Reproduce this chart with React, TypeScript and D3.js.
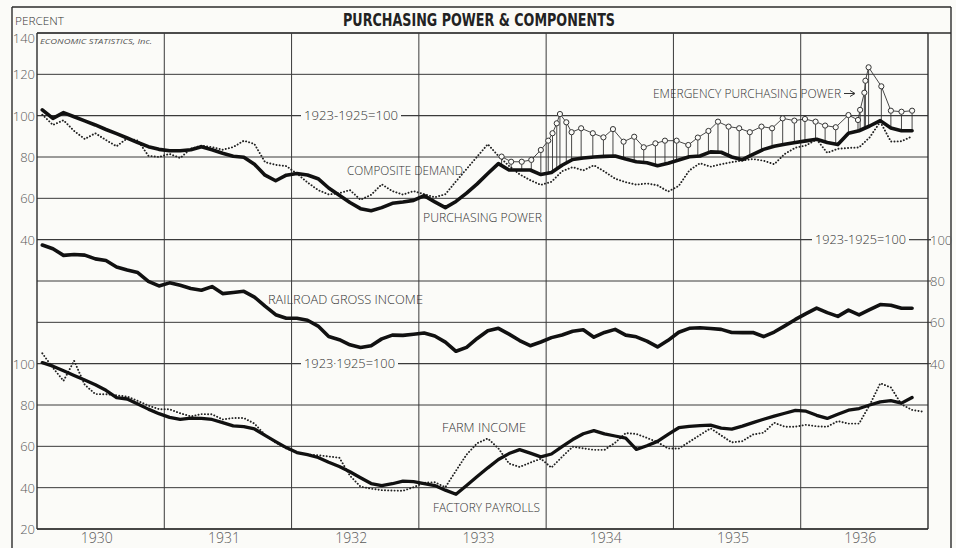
import React from "react";
import * as d3 from "d3";

const W = 956;
const H = 548;

// Monthly values, starting January 1930 (index 0)
const purchasingPower = [
  102.8, 98.7, 101.5, 99.5, 97.5, 95.5, 93.3, 91.3, 89.2, 87, 85, 83.7,
  83, 83, 83.5, 85, 83.5, 81.8, 80.4, 79.9, 76.5, 71.2, 68.5, 71.2,
  72, 71.3, 69.5, 65, 61.5, 58, 55, 54, 55.5, 57.6, 58.2, 59,
  61.3, 58.3, 55.5, 58.5, 62.5, 67, 72, 76.8, 73.7, 73.7, 73.7, 71.5,
  72.5, 76, 78.8, 79.5, 80, 80.3, 80.5, 79, 77.7, 77.2, 75.8, 77,
  78.5, 80.1, 80.5, 82.5, 82.3, 80, 78.7, 81.3, 83.7, 85.2, 86.2, 87,
  87.8, 88.6, 87, 86, 91.5, 92.7, 95, 97.6, 94, 92.7, 92.7,
];

const compositeDemand = [
  100.5, 95.5, 97.8, 92.6, 88.7, 91.5, 88.2, 85.2, 89, 88, 80.6, 80,
  81.5, 79.5, 84, 85.5, 84.8, 83.5, 84.8, 87.9, 86.3, 77.5, 76.2, 75.6,
  72, 67.7, 64, 61.9, 62.5, 64, 59.3, 61.7, 66.8, 63.5, 61.8, 63.5,
  62, 60.5, 62, 68.2, 74.2, 80.2, 86.2, 80.5, 75.7, 71.6, 68.8, 66.5,
  68, 73.1, 75.1, 73.5, 76, 73, 69.5, 67.8, 66.6, 67.2, 66.3, 63.3,
  66, 73.5, 77, 75.3, 76.5, 77.5, 78.3, 79, 78.2, 76.5, 81.5, 84.5,
  85.6, 88.5, 82, 84, 84.4, 84.6, 89.5, 97, 87.5, 87.6, 90,
];

// Emergency purchasing power: dates in months since Jan 1930
const emergencyMonths = [
  43.8, 44.7, 45.7, 46.6, 47.5, 48.2, 48.6, 49.0, 49.3, 49.9, 50.4, 51.3,
  52.4, 53.4, 54.3, 55.3, 56.3, 57.2, 58.3, 59.2, 60.3, 61.4, 62.3, 63.3,
  64.2, 65.2, 66.2, 67.2, 68.3, 69.3, 70.3, 71.4, 72.4, 73.4, 74.3, 75.3,
  76.5, 77.4, 77.6, 78.0, 78.1, 78.4, 79.6, 80.5, 81.5, 82.5,
];
const emergencyValues = [
  80.2, 77.7, 77.7, 78.6, 83.4, 87.9, 91.5, 96.3, 100.8, 96.8, 92, 93.9,
  91.5, 89.5, 93.5, 87.4, 89.8, 84.7, 86.6, 87.9, 87.9, 85.8, 89.4, 92.6,
  97.1, 94.7, 93.9, 92, 94.7, 93.9, 98.7, 97.6, 98.4, 97.1, 95.2, 94.4,
  100.3, 97.9, 102.8, 111.1, 116.9, 123.4, 114.2, 102.4, 101.9, 102.4,
];

const railroadIncome = [
  97.4, 95.6, 92.4, 92.8, 92.5, 90.7, 89.9, 86.8, 85.3, 84.1, 79.8, 77.6,
  79.1, 77.9, 76.4, 75.5, 77.3, 73.9, 74.4, 75, 72.2, 67.8, 63.7, 62,
  62, 61, 58.2, 53.1, 51.6, 49.1, 47.8, 48.7, 52, 53.8, 53.7, 54.2,
  54.8, 53.4, 50.4, 46, 47.9, 52.2, 55.9, 57.1, 54.3, 51.2, 48.7, 50.5,
  52.6, 53.9, 55.7, 56.4, 52.8, 55.1, 56.6, 53.8, 53, 50.9, 48.1, 51.3,
  55.2, 57.1, 57.4, 57, 56.6, 55.1, 55, 55.1, 53.1, 55.3, 58.3, 61.4,
  64.2, 66.9, 64.7, 62.9, 65.9, 63.6, 66.1, 68.6, 68.3, 66.8, 66.8,
];

const factoryPayrolls = [
  100.5, 98.8, 96.6, 94.3, 92.1, 89.8, 87.1, 83.6, 82.9, 80.5, 78, 75.8,
  74, 73, 73.6, 73.5, 73, 71.5, 69.9, 69.5, 68.4, 65.3, 62.3, 59.4,
  57, 56, 54.6, 52.3, 50.2, 47.7, 44.8, 42, 41, 41.9, 43.2, 42.9,
  41.9, 41, 38.8, 36.8, 41.1, 45.4, 49.6, 53.6, 56.5, 58.4, 56.7, 54.9,
  56.3, 59.9, 63.3, 66.1, 67.6, 66, 65, 64, 58.5, 60.3, 62.4, 65.8,
  69, 69.7, 70, 70.3, 68.8, 68.3, 69.8, 71.5, 73.1, 74.6, 76, 77.4,
  77, 75, 73.5, 75.5, 77.5, 78.3, 80, 81.5, 82.1, 80.9, 83.6,
];

const farmIncome = [
  105, 98, 91.7, 101.4, 89.8, 85.3, 85.2, 84.7, 84.1, 82, 79.7, 78,
  77.9, 76, 74.5, 75.6, 75.5, 73, 73.7, 73.7, 71, 65.5, 61.8, 59,
  57, 56, 55.7, 55.1, 54.5, 45.8, 40.5, 39.5, 38.8, 38.6, 38.5, 40.2,
  42.4, 42.6, 40.2, 48.2, 56, 61.5, 63.8, 59, 51.7, 50, 52.1, 54,
  49.7, 54.9, 59.8, 59, 58.3, 58.3, 61.7, 66.4, 66, 64.1, 62, 59,
  58.9, 62.2, 65.5, 68.7, 65.3, 61.9, 62.5, 65.7, 66.6, 71.4, 69.5, 69.5,
  70.4, 69.7, 69.5, 72.2, 71, 71, 80, 90.5, 88.5, 80.3, 77.6, 76.8,
];

const years = ["1930", "1931", "1932", "1933", "1934", "1935", "1936"];
const topTicks = [140, 120, 100, 80, 60, 40];
const railTicks = [100, 80, 60, 40];
const bottomTicks = [100, 80, 60, 40, 20];
const railGrid = [80, 60];

const X0 = 37;
const X1 = 928;
const YT = 33;
const YB = 529;
const step = (YB - YT) / 12;

const x = d3.scaleLinear().domain([0, 84]).range([X0, X1]);
const yTop = d3.scaleLinear().domain([40, 140]).range([YT + 5 * step, YT]);
const yRail = d3.scaleLinear().domain([40, 100]).range([YT + 8 * step, YT + 5 * step]);
const yBot = d3.scaleLinear().domain([20, 100]).range([YB, YT + 8 * step]);

const mx = (i: number) => x(i + 0.5);

const lineTop = d3.line<number>().x((_, i) => mx(i)).y((d) => yTop(d));
const lineRail = d3.line<number>().x((_, i) => mx(i)).y((d) => yRail(d));
const lineBot = d3.line<number>().x((_, i) => mx(i)).y((d) => yBot(d));
const lineEmerg = d3
  .line<number>()
  .x((_, i) => x(emergencyMonths[i]))
  .y((d) => yTop(d));

function ppAt(t: number) {
  const p = t - 0.5;
  const lo = Math.max(0, Math.min(purchasingPower.length - 1, Math.floor(p)));
  const hi = Math.min(purchasingPower.length - 1, lo + 1);
  const f = Math.max(0, Math.min(1, p - lo));
  return purchasingPower[lo] * (1 - f) + purchasingPower[hi] * f;
}

const INK = "#2b2b2b";
const GRID = "#3a3a3a";
const LABEL = "#5a5a5a";
const FONT = "'Open Sans', 'DejaVu Sans', sans-serif";

export default function App() {
  const gridYs: { y: number; key: string }[] = [];
  topTicks.forEach((v) => gridYs.push({ y: yTop(v), key: "t" + v }));
  railGrid.forEach((v) => gridYs.push({ y: yRail(v), key: "r" + v }));
  bottomTicks.forEach((v) => gridYs.push({ y: yBot(v), key: "b" + v }));

  const yTop100 = yTop(100);
  const yRail100 = yRail(100);
  const yBot100 = yBot(100);
  const hlines = gridYs.filter(
    (g) => Math.abs(g.y - yTop100) > 1 && Math.abs(g.y - yRail100) > 1 && Math.abs(g.y - yBot100) > 1
  );

  const ppLine = lineTop(purchasingPower) || "";
  const cdLine = lineTop(compositeDemand) || "";
  const emLine = lineEmerg(emergencyValues) || "";
  const rrLine = lineRail(railroadIncome) || "";
  const fpLine = lineBot(factoryPayrolls) || "";
  const fiLine = lineBot(farmIncome) || "";

  const labelStyle = {
    fontFamily: FONT,
    fontSize: 12,
    fill: "#333",
    fontWeight: 300 as const,
  };

  return (
    <svg width={W} height={H} style={{ position: "absolute", left: 0, top: 0, background: "#fbfbf8" }}>
      <rect x={0} y={0} width={W} height={H} fill="#fbfbf8" />
      {/* outer frame */}
      <line x1={12} y1={7} x2={951} y2={7} stroke={INK} strokeWidth={1.4} />
      <line x1={12} y1={7} x2={12} y2={H} stroke={INK} strokeWidth={1.4} />
      <line x1={951} y1={7} x2={951} y2={H} stroke={INK} strokeWidth={1.4} />
      {/* title bar line */}
      <line x1={X0} y1={YT} x2={951} y2={YT} stroke={INK} strokeWidth={1.3} />
      <text
        x={343}
        y={26}
        textLength={272}
        lengthAdjust="spacingAndGlyphs"
        style={{ fontFamily: "'DejaVu Sans', sans-serif", fontWeight: 700, fontSize: 17, fill: "#222" }}
      >
        PURCHASING POWER &amp; COMPONENTS
      </text>
      <text x={15} y={25} textLength={49} lengthAdjust="spacingAndGlyphs" style={{ ...labelStyle, fontSize: 10.5 }}>
        PERCENT
      </text>
      <text
        x={40}
        y={44}
        textLength={112}
        lengthAdjust="spacingAndGlyphs"
        style={{ fontFamily: FONT, fontSize: 8, fontStyle: "italic", fill: "#555" }}
      >
        ECONOMIC STATISTICS, Inc.
      </text>

      {/* horizontal grid lines */}
      {hlines.map((g) => (
        <line key={g.key} x1={X0} y1={g.y} x2={X1} y2={g.y} stroke={GRID} strokeWidth={1} />
      ))}
      {/* 100 base lines with labels */}
      <line x1={X0} y1={yTop100} x2={301} y2={yTop100} stroke={GRID} strokeWidth={1.2} />
      <line x1={401} y1={yTop100} x2={X1} y2={yTop100} stroke={GRID} strokeWidth={1.2} />
      <text x={304} y={yTop100 + 4.5} textLength={94} lengthAdjust="spacingAndGlyphs" style={labelStyle}>
        1923-1925=100
      </text>
      <line x1={X0} y1={yRail100} x2={812} y2={yRail100} stroke={GRID} strokeWidth={1.2} />
      <line x1={909} y1={yRail100} x2={931} y2={yRail100} stroke={GRID} strokeWidth={1.2} />
      <text x={815} y={yRail100 + 4.5} textLength={91} lengthAdjust="spacingAndGlyphs" style={labelStyle}>
        1923-1925=100
      </text>
      <line x1={X0} y1={yBot100} x2={301} y2={yBot100} stroke={GRID} strokeWidth={1.2} />
      <line x1={398} y1={yBot100} x2={X1} y2={yBot100} stroke={GRID} strokeWidth={1.2} />
      <text x={304} y={yBot100 + 4.5} textLength={91} lengthAdjust="spacingAndGlyphs" style={labelStyle}>
        1923·1925=100
      </text>

      {/* vertical year lines */}
      {years.map((_, k) =>
        k === 0 ? null : (
          <line key={"v" + k} x1={x(12 * k)} y1={YT} x2={x(12 * k)} y2={YB} stroke={GRID} strokeWidth={1} />
        )
      )}
      <line x1={X0} y1={YT} x2={X0} y2={YB} stroke={INK} strokeWidth={1.4} />
      <line x1={X1} y1={YT} x2={X1} y2={YB} stroke={INK} strokeWidth={1.4} />
      <line x1={X0} y1={YB} x2={X1} y2={YB} stroke={INK} strokeWidth={1.4} />

      {/* left axis labels */}
      {topTicks.map((v, i) => (
        <text
          key={"lt" + v}
          x={35}
          y={yTop(v) + (i === 0 ? 9.5 : 5)}
          textAnchor="end"
          style={{ ...labelStyle, fontSize: 13, fill: LABEL }}
        >
          {v}
        </text>
      ))}
      {bottomTicks.map((v) => (
        <text key={"lb" + v} x={35} y={yBot(v) + 5} textAnchor="end" style={{ ...labelStyle, fontSize: 13, fill: LABEL }}>
          {v}
        </text>
      ))}
      {/* right axis labels */}
      {railTicks.map((v) => (
        <g key={"rr" + v}>
          <line x1={X1} y1={yRail(v)} x2={931} y2={yRail(v)} stroke={GRID} strokeWidth={1} />
          <text x={930} y={yRail(v) + 5} style={{ ...labelStyle, fontSize: 13, fill: LABEL }}>
            {v}
          </text>
        </g>
      ))}
      {/* year labels */}
      {years.map((yr, k) => (
        <text
          key={yr}
          x={x(12 * k + 6) - 4}
          y={543}
          textAnchor="middle"
          style={{ ...labelStyle, fontSize: 14, fill: LABEL }}
        >
          {yr}
        </text>
      ))}

      {/* emergency purchasing power stems */}
      {emergencyValues.map((v, i) => {
        const t = emergencyMonths[i];
        const cx = x(t);
        const cy = yTop(v);
        const py = yTop(ppAt(t));
        return py > cy + 3 ? (
          <line key={"st" + i} x1={cx} y1={cy + 2.6} x2={cx} y2={py} stroke="#333" strokeWidth={0.9} />
        ) : null;
      })}
      <path d={emLine} fill="none" stroke="#333" strokeWidth={0.9} />

      {/* composite demand (dotted) */}
      <path
        d={cdLine}
        fill="none"
        stroke="#222"
        strokeWidth={1.9}
        strokeDasharray="0.1 3.1"
        strokeLinecap="round"
        strokeLinejoin="round"
      />
      {/* purchasing power */}
      <path d={ppLine} fill="none" stroke="#111" strokeWidth={3.6} strokeLinejoin="round" strokeLinecap="round" />
      {emergencyValues.map((v, i) => (
        <circle
          key={"c" + i}
          cx={x(emergencyMonths[i])}
          cy={yTop(v)}
          r={2.6}
          fill="#fbfbf8"
          stroke="#333"
          strokeWidth={1}
        />
      ))}

      {/* railroad */}
      <path d={rrLine} fill="none" stroke="#111" strokeWidth={3.6} strokeLinejoin="round" strokeLinecap="round" />

      {/* farm income dotted */}
      <path
        d={fiLine}
        fill="none"
        stroke="#222"
        strokeWidth={1.9}
        strokeDasharray="0.1 3.1"
        strokeLinecap="round"
        strokeLinejoin="round"
      />
      {/* factory payrolls */}
      <path d={fpLine} fill="none" stroke="#111" strokeWidth={3.3} strokeLinejoin="round" strokeLinecap="round" />

      {/* series labels */}
      <text x={347} y={175} textLength={116} lengthAdjust="spacingAndGlyphs" style={labelStyle}>
        COMPOSITE DEMAND
      </text>
      <text x={423} y={222} textLength={119} lengthAdjust="spacingAndGlyphs" style={labelStyle}>
        PURCHASING POWER
      </text>
      <text x={653} y={98} textLength={188} lengthAdjust="spacingAndGlyphs" style={labelStyle}>
        EMERGENCY PURCHASING POWER
      </text>
      <line x1={844} y1={93.5} x2={854} y2={93.5} stroke="#333" strokeWidth={1} />
      <path d="M850,90.5 L855,93.5 L850,96.5" fill="none" stroke="#333" strokeWidth={1} />
      <text x={268} y={304} textLength={155} lengthAdjust="spacingAndGlyphs" style={labelStyle}>
        RAILROAD GROSS INCOME
      </text>
      <text x={442} y={432} textLength={84} lengthAdjust="spacingAndGlyphs" style={labelStyle}>
        FARM INCOME
      </text>
      <text x={433} y={512} textLength={107} lengthAdjust="spacingAndGlyphs" style={labelStyle}>
        FACTORY PAYROLLS
      </text>
    </svg>
  );
}
